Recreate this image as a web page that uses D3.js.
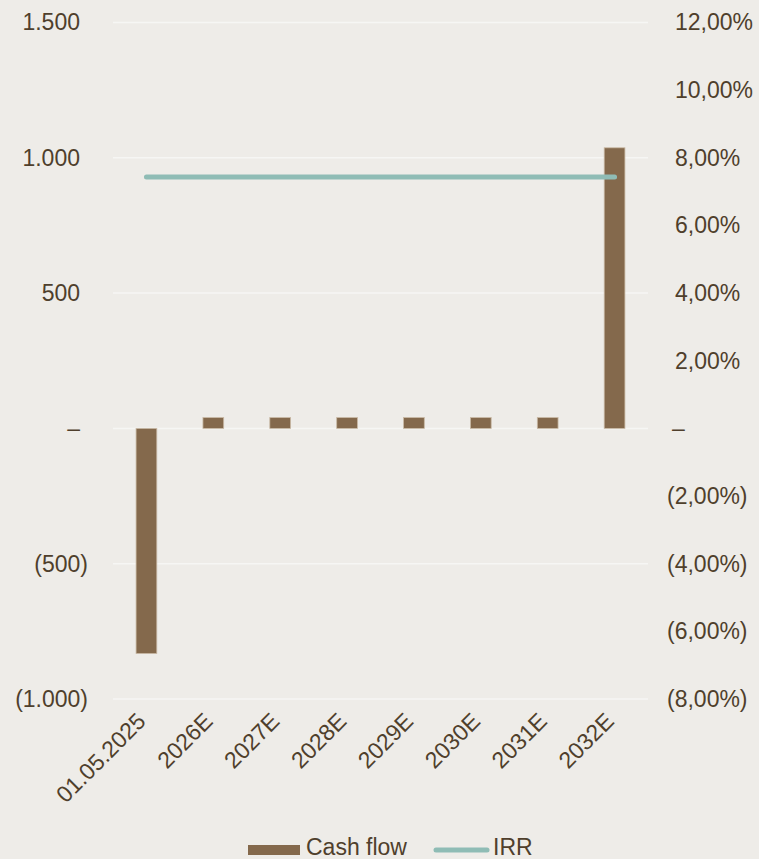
<!DOCTYPE html>
<html><head><meta charset="utf-8">
<script src="https://cdn.jsdelivr.net/npm/d3@7"></script>
<style>
html,body{margin:0;padding:0;background:#eeece8;}
svg{display:block;}
text{font-family:"Liberation Sans",Arial,Helvetica,sans-serif;fill:#4f3f2c;}
</style></head>
<body>
<script>
const categories = ["01.05.2025","2026E","2027E","2028E","2029E","2030E","2031E","2032E"];
const cashFlow = [-832, 40, 40, 40, 40, 40, 40, 1037];
const irr = [7.43, 7.43, 7.43, 7.43, 7.43, 7.43, 7.43, 7.43];
const leftTicks = [-1000, -500, 0, 500, 1000, 1500];
const leftTickLabels = ["(1.000)", "(500)", "–", "500", "1.000", "1.500"];
const rightTicks = [-8, -6, -4, -2, 0, 2, 4, 6, 8, 10, 12];
const rightTickLabels = ["(8,00%)", "(6,00%)", "(4,00%)", "(2,00%)", "–", "2,00%", "4,00%", "6,00%", "8,00%", "10,00%", "12,00%"];

const W = 759, H = 859;
const FS = "23px";
const svg = d3.select("body").append("svg").attr("width", W).attr("height", H);
svg.append("rect").attr("width", W).attr("height", H).attr("fill", "#eeece8");

const x0 = 113, x1 = 648, yTop = 22.5, yBot = 699;
const x = d3.scaleBand().domain(categories).range([x0, x1]).paddingInner(0.69).paddingOuter(0.345);
const xc = d3.scalePoint().domain(categories).range([x0, x1]).padding(0.5);
const yL = d3.scaleLinear().domain([-1000, 1500]).range([yBot, yTop]);
const yR = d3.scaleLinear().domain([-8, 12]).range([yBot, yTop]);

// gridlines
svg.append("g").selectAll("line").data(leftTicks).join("line")
  .attr("x1", x0).attr("x2", x1)
  .attr("y1", d => yL(d)).attr("y2", d => yL(d))
  .attr("stroke", "#f6f6f4").attr("stroke-width", 1.5);

// left axis (positives right-aligned at 80, closing paren hangs)
const gl = svg.append("g").attr("transform", `translate(${x0},0)`)
  .call(d3.axisLeft(yL).tickValues(leftTicks).tickSize(0).tickPadding(33)
    .tickFormat((d, i) => leftTickLabels[i]));
gl.select(".domain").remove();
gl.selectAll("text").style("font-size", FS).attr("fill", "#4f3f2c")
  .style("font-family", '"Liberation Sans",Arial,sans-serif')
  .attr("x", d => d < 0 ? -(x0 - 88) : -(x0 - 80));

// right axis (left-aligned, opening paren hangs)
const gr = svg.append("g").attr("transform", `translate(${x1},0)`)
  .call(d3.axisRight(yR).tickValues(rightTicks).tickSize(0)
    .tickFormat((d, i) => rightTickLabels[i]));
gr.select(".domain").remove();
gr.selectAll("text").style("font-size", FS).attr("fill", "#4f3f2c")
  .style("font-family", '"Liberation Sans",Arial,sans-serif')
  .attr("text-anchor", "start")
  .attr("x", d => d < 0 ? 667 - x1 : (d === 0 ? 672 - x1 : 675 - x1));

// bars
svg.append("g").selectAll("rect").data(cashFlow).join("rect")
  .attr("x", (d, i) => x(categories[i]))
  .attr("width", x.bandwidth())
  .attr("y", d => yL(Math.max(0, d)))
  .attr("height", d => Math.abs(yL(d) - yL(0)))
  .attr("fill", "#84694c").attr("stroke", "#c9b9a5").attr("stroke-width", 0.8);

// IRR line
const line = d3.line().x((d, i) => xc(categories[i])).y(d => yR(d));
svg.append("path").datum(irr).attr("d", line)
  .attr("fill", "none").attr("stroke", "#8fbcb5").attr("stroke-width", 5)
  .attr("stroke-linecap", "round");

// x labels
svg.append("g").selectAll("text").data(categories).join("text")
  .attr("transform", d => `translate(${xc(d) - 5},${717}) rotate(-45)`)
  .attr("text-anchor", "end").attr("dy", "0.35em")
  .style("font-size", FS).text(d => d);

// legend
const lg = svg.append("g");
lg.append("rect").attr("x", 248).attr("y", 845).attr("width", 52).attr("height", 10).attr("fill", "#84694c");
lg.append("text").attr("x", 306).attr("y", 855).style("font-size", FS).text("Cash flow");
lg.append("line").attr("x1", 436).attr("x2", 487).attr("y1", 850).attr("y2", 850)
  .attr("stroke", "#8fbcb5").attr("stroke-width", 5).attr("stroke-linecap", "round");
lg.append("text").attr("x", 493).attr("y", 855).style("font-size", FS).text("IRR");
</script>
</body></html>
